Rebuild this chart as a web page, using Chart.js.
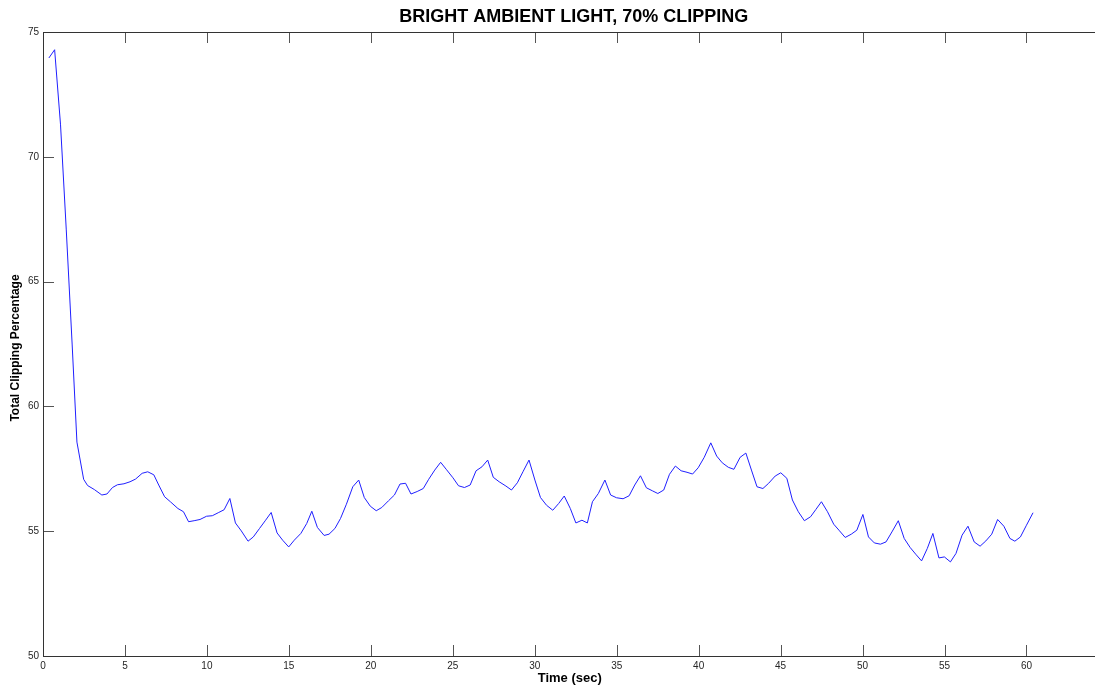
<!DOCTYPE html>
<html>
<head>
<meta charset="utf-8">
<title>Bright ambient light, 70% clipping</title>
<script src="https://cdn.jsdelivr.net/npm/chart.js@4.4.1/dist/chart.umd.min.js"></script>
<style>
  html, body { margin: 0; padding: 0; background: #fff; overflow: hidden; }
  #wrap { position: absolute; left: 0; top: 0; width: 1118px; height: 689px; }
</style>
</head>
<body>
<div id="wrap"><canvas id="clipChart"></canvas></div>
<script>
// Clipping measurement, one sample about every 0.35 s
const timeSec = [
  0.36, 0.71, 1.07, 1.42, 1.78, 2.07, 2.48, 2.72, 3.13, 3.59,
  3.90, 4.24, 4.54, 4.94, 5.31, 5.65, 6.05, 6.39, 6.76, 7.06,
  7.42, 7.77, 8.23, 8.57, 8.88, 9.22, 9.58, 9.98, 10.33, 10.69,
  11.05, 11.40, 11.74, 12.10, 12.51, 12.83, 13.21, 13.58, 13.92, 14.28,
  14.62, 14.99, 15.33, 15.73, 16.09, 16.40, 16.74, 17.15, 17.45, 17.81,
  18.15, 18.51, 18.90, 19.26, 19.60, 19.97, 20.33, 20.67, 21.08, 21.44,
  21.78, 22.12, 22.45, 22.83, 23.20, 23.53, 23.90, 24.26, 24.60, 25.01,
  25.35, 25.71, 26.06, 26.42, 26.78, 27.13, 27.47, 27.83, 28.24, 28.58,
  28.94, 29.28, 29.65, 30.01, 30.35, 30.72, 31.10, 31.46, 31.80, 32.17,
  32.51, 32.88, 33.21, 33.52, 33.88, 34.28, 34.63, 34.99, 35.39, 35.76,
  36.10, 36.45, 36.81, 37.17, 37.51, 37.87, 38.22, 38.58, 38.93, 39.29,
  39.63, 39.97, 40.34, 40.74, 41.10, 41.44, 41.81, 42.15, 42.53, 42.88,
  43.22, 43.56, 43.92, 44.27, 44.67, 45.01, 45.38, 45.72, 46.08, 46.45,
  46.83, 47.15, 47.49, 47.86, 48.24, 48.56, 48.94, 49.31, 49.65, 50.02,
  50.36, 50.72, 51.09, 51.43, 51.79, 52.18, 52.54, 52.90, 53.24, 53.60,
  53.95, 54.29, 54.66, 54.99, 55.36, 55.70, 56.07, 56.43, 56.81, 57.17,
  57.52, 57.88, 58.24, 58.62, 58.99, 59.29, 59.63, 60.00, 60.40
];
const clipPct = [
  73.96, 74.29, 71.28, 67.07, 62.46, 58.57, 57.08, 56.83, 56.67, 56.45,
  56.49, 56.75, 56.86, 56.90, 56.98, 57.09, 57.32, 57.38, 57.26, 56.85,
  56.38, 56.18, 55.91, 55.78, 55.38, 55.42, 55.47, 55.60, 55.62, 55.74,
  55.86, 56.31, 55.33, 55.01, 54.60, 54.77, 55.11, 55.44, 55.75, 54.93,
  54.64, 54.37, 54.64, 54.91, 55.31, 55.80, 55.15, 54.83, 54.88, 55.11,
  55.51, 56.08, 56.78, 57.05, 56.35, 56.00, 55.82, 55.95, 56.22, 56.45,
  56.89, 56.92, 56.49, 56.59, 56.71, 57.08, 57.45, 57.76, 57.48, 57.14,
  56.82, 56.75, 56.85, 57.42, 57.58, 57.85, 57.16, 56.98, 56.81, 56.65,
  56.94, 57.38, 57.85, 57.05, 56.35, 56.04, 55.84, 56.11, 56.41, 55.91,
  55.33, 55.44, 55.33, 56.18, 56.51, 57.05, 56.45, 56.34, 56.30, 56.42,
  56.85, 57.22, 56.74, 56.62, 56.51, 56.65, 57.28, 57.61, 57.42, 57.36,
  57.29, 57.54, 57.96, 58.54, 58.01, 57.74, 57.56, 57.48, 57.96, 58.13,
  57.45, 56.78, 56.71, 56.92, 57.21, 57.34, 57.12, 56.25, 55.78, 55.42,
  55.58, 55.87, 56.18, 55.78, 55.28, 55.04, 54.75, 54.88, 55.04, 55.67,
  54.77, 54.53, 54.48, 54.57, 54.97, 55.42, 54.71, 54.35, 54.08, 53.81,
  54.31, 54.91, 53.93, 53.97, 53.77, 54.11, 54.84, 55.20, 54.57, 54.40,
  54.61, 54.88, 55.47, 55.20, 54.71, 54.60, 54.77, 55.24, 55.74
];

// Axis ranges and tick steps
const xTicks = [0, 5, 10, 15, 20, 25, 30, 35, 40, 45, 50, 55, 60, 65];
const yTicks = [50, 55, 60, 65, 70, 75];

const chartTitle = 'BRIGHT AMBIENT LIGHT, 70% CLIPPING';
const xTitle = 'Time (sec)';
const yTitle = 'Total Clipping Percentage';

const FONT = '"Liberation Sans", Arial, Helvetica, sans-serif';

// Box, inward ticks and titles drawn the way MATLAB axes look
const matlabAxes = {
  id: 'matlabAxes',
  afterDraw(chart) {
    const { ctx, chartArea: a, scales } = chart;
    const tick = 11;
    ctx.save();

    ctx.strokeStyle = '#555';
    ctx.lineWidth = 1;
    ctx.beginPath();
    xTicks.forEach(v => {
      const px = Math.round(scales.x.getPixelForValue(v)) + 0.5;
      ctx.moveTo(px, a.bottom); ctx.lineTo(px, a.bottom - tick);
      ctx.moveTo(px, a.top); ctx.lineTo(px, a.top + tick);
    });
    yTicks.forEach(v => {
      const py = Math.round(scales.y.getPixelForValue(v)) + 0.5;
      ctx.moveTo(a.left, py); ctx.lineTo(a.left + tick, py);
      ctx.moveTo(a.right, py); ctx.lineTo(a.right - tick, py);
    });
    ctx.stroke();

    ctx.strokeStyle = '#333';
    ctx.strokeRect(Math.round(a.left) + 0.5, Math.round(a.top) + 0.5,
                   Math.round(a.right - a.left), Math.round(a.bottom - a.top));

    const cx = (a.left + a.right) / 2;
    ctx.fillStyle = '#000';
    ctx.textAlign = 'center';
    ctx.textBaseline = 'middle';

    ctx.font = 'bold 18px ' + FONT;
    ctx.fillText(chartTitle, cx - 2, 17);

    ctx.font = 'bold 13px ' + FONT;
    ctx.fillText(xTitle, cx - 6, 678);

    ctx.translate(16, (a.top + a.bottom) / 2 + 4);
    ctx.rotate(-Math.PI / 2);
    ctx.font = 'bold 12px ' + FONT;
    ctx.fillText(yTitle, 0, 0);

    ctx.restore();
  }
};

const ctx = document.getElementById('clipChart').getContext('2d');

new Chart(ctx, {
  type: 'line',
  data: {
    datasets: [{
      data: timeSec.map((t, i) => ({ x: t, y: clipPct[i] })),
      borderColor: '#1f1fff',
      borderWidth: 1,
      pointRadius: 0,
      tension: 0,
      fill: false
    }]
  },
  options: {
    responsive: true,
    maintainAspectRatio: false,
    animation: false,
    layout: { padding: { top: 32, right: 0, bottom: 0, left: 0 } },
    plugins: {
      legend: { display: false },
      tooltip: { enabled: false }
    },
    scales: {
      x: {
        type: 'linear',
        min: 0,
        max: 65,
        grid: { display: false, tickLength: 0 },
        border: { display: false },
        ticks: {
          stepSize: 5,
          maxRotation: 0,
          autoSkip: false,
          padding: 4,
          color: '#262626',
          font: { family: FONT, size: 10 }
        },
        afterFit(scale) { scale.height = 33; }
      },
      y: {
        min: 50,
        max: 75,
        grid: { display: false, tickLength: 0 },
        border: { display: false },
        ticks: {
          stepSize: 5,
          padding: 4,
          color: '#262626',
          font: { family: FONT, size: 10 }
        },
        afterFit(scale) { scale.width = 43; }
      }
    }
  },
  plugins: [matlabAxes]
});
</script>
</body>
</html>
